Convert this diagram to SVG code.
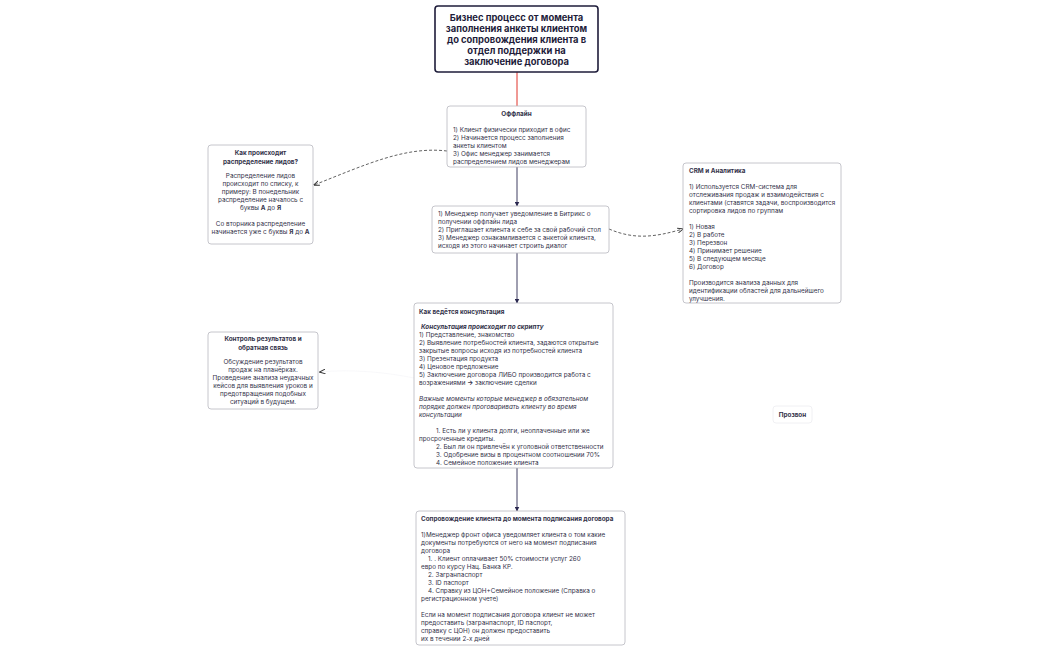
<svg xmlns="http://www.w3.org/2000/svg" width="1050" height="650" viewBox="0 0 1050 650">
<defs>
<marker id="ah" viewBox="0 0 10 10" refX="9" refY="5" markerWidth="5" markerHeight="5" orient="auto" markerUnits="userSpaceOnUse">
<path d="M0,0 L10,5 L0,10 z" fill="#2a2850"/>
</marker>
<marker id="ahd" viewBox="0 0 10 10" refX="9" refY="5" markerWidth="6" markerHeight="6" orient="auto" markerUnits="userSpaceOnUse">
<path d="M0,1 L10,5 L0,9" fill="none" stroke="#333" stroke-width="1.6"/>
</marker>
</defs>
<style>
text{font-family:Inter,"Noto Sans","DejaVu Sans",sans-serif;fill:#34334a}
.box{fill:#fff;stroke:#b8b8bf;stroke-width:0.8}
.t{font-size:6.35px}
.b{font-weight:700}
.i{font-style:italic}
.c{text-anchor:middle}
.ttl{font-size:9.4px;font-weight:700;fill:#1e1c3a;text-anchor:middle}
.ln{fill:none;stroke:#2a2850;stroke-width:0.9}
.dl{fill:none;stroke:#3a3a3a;stroke-width:0.8;stroke-dasharray:3 2}
</style>
<rect width="1050" height="650" fill="#fff"/>

<g id="connectors">
<path d="M517,72 L517,106" fill="none" stroke="#e0322a" stroke-width="1"/>
<path class="ln" d="M517,167 L517,206" marker-end="url(#ah)"/>
<path class="ln" d="M517,253 L517,303" marker-end="url(#ah)"/>
<path class="ln" d="M517,468 L517,511" marker-end="url(#ah)"/>
<path class="dl" d="M447,151 C405,146 365,165 314,185" marker-end="url(#ahd)"/>
<path class="dl" d="M609,229 C635,240 655,237 683,229" marker-end="url(#ahd)"/>
<path d="M414,378 C385,372 350,369 320,372" fill="none" stroke="#f4f4f6" stroke-width="0.6" marker-end="url(#ahd)"/>
</g>

<g id="title">
<rect x="435" y="6" width="163" height="66" rx="3" fill="#fff" stroke="#1e1c3a" stroke-width="1.6"/>
<text class="ttl" x="516.5" y="21">Бизнес процесс от момента</text>
<text class="ttl" x="516.5" y="32">заполнения анкеты клиентом</text>
<text class="ttl" x="516.5" y="43">до сопровождения клиента в</text>
<text class="ttl" x="516.5" y="54">отдел поддержки на</text>
<text class="ttl" x="516.5" y="65">заключение договора</text>
</g>

<g id="offline">
<rect class="box" x="447" y="106" width="139" height="61" rx="3"/>
<text class="t b c" x="516.5" y="116">Оффлайн</text>
<text class="t" x="453" y="132">1) Клиент физически приходит в офис</text>
<text class="t" x="453" y="140">2) Начинается процесс заполнения</text>
<text class="t" x="453" y="148">анкеты клиентом</text>
<text class="t" x="453" y="156">3) Офис менеджер занимается</text>
<text class="t" x="453" y="164">распределением лидов менеджерам</text>
</g>

<g id="leads">
<rect class="box" x="208" y="145" width="105" height="99" rx="3"/>
<text class="t b c" x="260.5" y="155">Как происходит</text>
<text class="t b c" x="260.5" y="164">распределение лидов?</text>
<text class="t c" x="260.5" y="178">Распределение лидов</text>
<text class="t c" x="260.5" y="186">происходит по списку, к</text>
<text class="t c" x="260.5" y="194">примеру: В понедельник</text>
<text class="t c" x="260.5" y="202">распределение началось с</text>
<text class="t c" x="260.5" y="210">буквы <tspan class="b">А</tspan> до <tspan class="b">Я</tspan></text>
<text class="t c" x="260.5" y="226">Со вторника распределение</text>
<text class="t c" x="260.5" y="234">начинается уже с буквы <tspan class="b">Я</tspan> до <tspan class="b">А</tspan></text>
</g>

<g id="manager">
<rect class="box" x="432" y="206" width="177" height="47" rx="3"/>
<text class="t" x="438" y="216">1) Менеджер получает уведомление в Битрикс о</text>
<text class="t" x="438" y="224">получении оффлайн лида</text>
<text class="t" x="438" y="232">2) Приглашает клиента к себе за свой рабочий стол</text>
<text class="t" x="438" y="240">3) Менеджер ознакамливается с анкетой клиента,</text>
<text class="t" x="438" y="248">исходя из этого начинает строить диалог</text>
</g>

<g id="crm">
<rect class="box" x="683" y="163" width="158" height="140" rx="3"/>
<text class="t b" x="689" y="173">CRM и Аналитика</text>
<text class="t" x="689" y="189">1) Используется CRM-система для</text>
<text class="t" x="689" y="197">отслеживания продаж и взаимодействия с</text>
<text class="t" x="689" y="205">клиентами (ставятся задачи, воспроизводится</text>
<text class="t" x="689" y="213">сортировка лидов по группам</text>
<text class="t" x="689" y="229">1) Новая</text>
<text class="t" x="689" y="237">2) В работе</text>
<text class="t" x="689" y="245">3) Перезвон</text>
<text class="t" x="689" y="253">4) Принимает решение</text>
<text class="t" x="689" y="261">5) В следующем месяце</text>
<text class="t" x="689" y="269">6) Договор</text>
<text class="t" x="689" y="285">Производится анализа данных для</text>
<text class="t" x="689" y="293">идентификации областей для дальнейшего</text>
<text class="t" x="689" y="301">улучшения.</text>
</g>

<g id="consult">
<rect class="box" x="414" y="303" width="199" height="165" rx="3"/>
<text class="t b" x="419" y="314">Как ведётся консультация</text>
<text class="t b i" x="421" y="329">Консультация происходит по скрипту</text>
<text class="t" x="419" y="337">1) Представление, знакомство</text>
<text class="t" x="419" y="345">2) Выявление потребностей клиента, задаются открытые</text>
<text class="t" x="419" y="353">закрытые вопросы исходя из потребностей клиента</text>
<text class="t" x="419" y="361">3) Презентация продукта</text>
<text class="t" x="419" y="369">4) Ценовое предложение</text>
<text class="t" x="419" y="377">5) Заключение договора ЛИБО производится работа с</text>
<text class="t" x="419" y="385">возражениями <tspan class="b">-&gt;</tspan> заключение сделки</text>
<text class="t i" x="419" y="401">Важные моменты которые менеджер в обязательном</text>
<text class="t i" x="419" y="409">порядке должен проговаривать клиенту во время</text>
<text class="t i" x="419" y="417">консультации</text>
<text class="t" x="436" y="433">1. Есть ли у клиента долги, неоплаченные или же</text>
<text class="t" x="419" y="441">просроченные кредиты.</text>
<text class="t" x="436" y="449">2. Был ли он привлечён к уголовной ответственности</text>
<text class="t" x="436" y="457">3. Одобрение визы в процентном соотношении  70%</text>
<text class="t" x="436" y="465">4. Семейное положение клиента</text>
</g>

<g id="control">
<rect class="box" x="208" y="332" width="110" height="77" rx="3"/>
<text class="t b c" x="263" y="341">Контроль результатов и</text>
<text class="t b c" x="263" y="350">обратная связь</text>
<text class="t c" x="263" y="364">Обсуждение результатов</text>
<text class="t c" x="263" y="372">продаж на планёрках.</text>
<text class="t c" x="263" y="380">Проведение анализа неудачных</text>
<text class="t c" x="263" y="388">кейсов для выявления уроков и</text>
<text class="t c" x="263" y="396">предотвращения подобных</text>
<text class="t c" x="263" y="404">ситуаций в будущем.</text>
</g>

<g id="call">
<rect x="773" y="406" width="39" height="17" rx="3" fill="#fff" stroke="#ececf0" stroke-width="0.8"/>
<text class="t b c" x="792.5" y="417">Прозвон</text>
</g>

<g id="support">
<rect class="box" x="416" y="511" width="209" height="134" rx="3"/>
<text class="t b" x="421" y="521">Сопровождение клиента до момента подписания договора</text>
<text class="t" x="421" y="537">1)Менеджер фронт офиса уведомляет клиента о том какие</text>
<text class="t" x="421" y="545">документы потребуются от него на момент подписания</text>
<text class="t" x="421" y="553">договора</text>
<text class="t" x="428" y="561">1. . Клиент оплачивает 50% стоимости  услуг 260</text>
<text class="t" x="421" y="569">евро по курсу Нац. Банка КР.</text>
<text class="t" x="428" y="577">2. Загранпаспорт</text>
<text class="t" x="428" y="585">3. ID паспорт</text>
<text class="t" x="428" y="593">4. Справку из ЦОН+Семейное положение (Справка о</text>
<text class="t" x="421" y="601">регистрационном учете)</text>
<text class="t" x="421" y="617">Если на момент подписания договора клиент не может</text>
<text class="t" x="421" y="625">предоставить (загранпаспорт, ID паспорт,</text>
<text class="t" x="421" y="633">справку с ЦОН) он должен предоставить</text>
<text class="t" x="421" y="641">их в течении 2-х дней</text>
</g>
</svg>
